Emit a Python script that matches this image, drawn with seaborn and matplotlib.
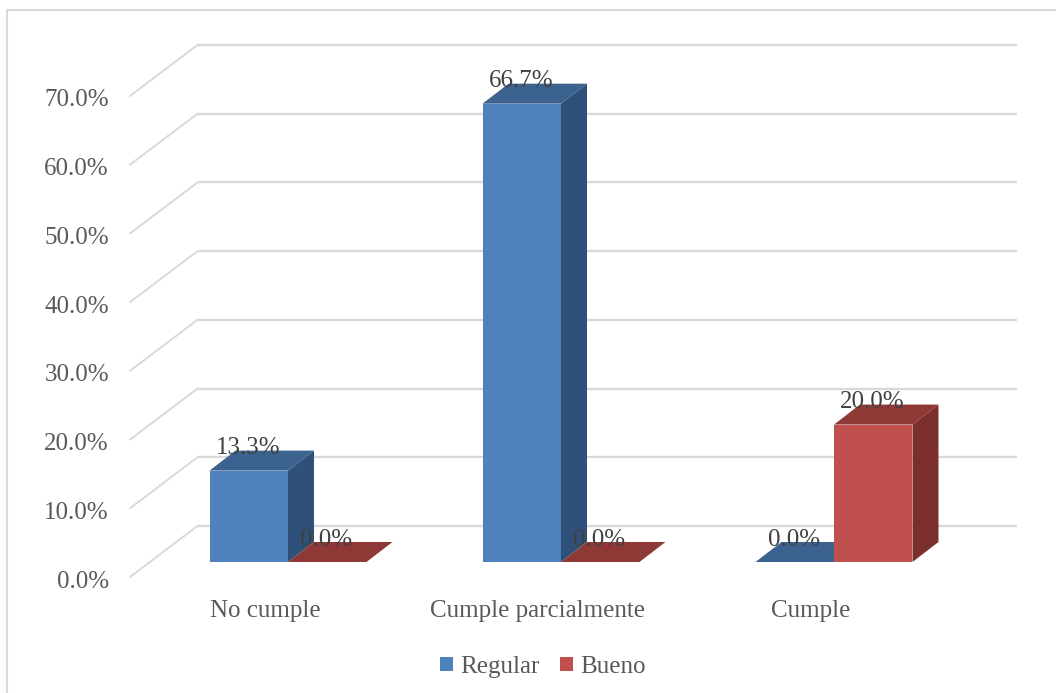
import matplotlib
matplotlib.use("Agg")
import matplotlib.pyplot as plt
import pandas as pd
import seaborn as sns
from matplotlib.lines import Line2D
from matplotlib.patches import Patch, Polygon
from matplotlib.transforms import Affine2D, IdentityTransform

categories = ["No cumple", "Cumple parcialmente", "Cumple"]
series_names = ["Regular", "Bueno"]
regular_values = [13.3, 66.7, 0.0]
bueno_values = [0.0, 0.0, 20.0]
y_ticks = [0, 10, 20, 30, 40, 50, 60, 70]

front_colors = ["#4F81BD", "#C0504D"]
top_colors = ["#3C6290", "#8E3936"]
side_colors = ["#2F5078", "#7A2F2D"]
GRID = "#D9D9D9"

W, H = 1056, 693
sns.set_theme(style="white")
plt.rcParams["font.family"] = ["Liberation Serif", "DejaVu Serif"]

df = pd.DataFrame({
    "categoria": categories * 2,
    "serie": [series_names[0]] * 3 + [series_names[1]] * 3,
    "valor": regular_values + bueno_values,
})

fig = plt.figure(figsize=(W / 100, H / 100), dpi=100, facecolor="white")
ax = fig.add_axes([151.5 / W, (H - 562) / H, 819 / W, 481 / H])
ax.patch.set_alpha(0)

sns.barplot(data=df, x="categoria", y="valor", hue="serie", order=categories,
            hue_order=series_names, palette=front_colors, saturation=1,
            width=0.575, gap=0, dodge=True, legend=False, ax=ax, zorder=3,
            edgecolor="none")
ax.set_xlim(-0.5, 2.5)
ax.set_ylim(0, 70)
ax.set_xlabel("")
ax.set_ylabel("")
sns.despine(ax=ax, left=True, bottom=True, top=True, right=True)


def shift(dx, dy):
    return Affine2D().translate(dx, dy)


# Walls: back wall lines and the diagonals of the side wall
x0, x1 = ax.get_xlim()
for v in y_ticks:
    ax.plot([x0, x1], [v, v], color=GRID, lw=1.7, clip_on=False, zorder=0.5,
            transform=ax.transData + shift(46.5, 36), solid_capstyle="butt")
    p_front = (ax.transData + shift(-21.5, -15)).transform((x0, v))
    p_back = (ax.transData + shift(46, 36)).transform((x0, v))
    ax.add_line(Line2D([p_front[0], p_back[0]], [p_front[1], p_back[1]], color=GRID,
                       lw=1.4, transform=IdentityTransform(), clip_on=False, zorder=0.5))

# Depth faces and value labels of each bar
DX, DY = 26, 20
for s, container in enumerate(ax.containers):
    for bar in container:
        bx, bw, bh = bar.get_x(), bar.get_width(), bar.get_height()
        (xa, ya), (xb, yb) = ax.transData.transform([(bx, 0), (bx + bw, bh)])
        top = [(xa, yb), (xb, yb), (xb + DX, yb + DY), (xa + DX, yb + DY)]
        ax.add_patch(Polygon(top, closed=True, facecolor=top_colors[s], edgecolor="none",
                             transform=IdentityTransform(), clip_on=False, zorder=2))
        if bh > 0:
            side = [(xb, ya), (xb + DX, ya + DY), (xb + DX, yb + DY), (xb, yb)]
            ax.add_patch(Polygon(side, closed=True, facecolor=side_colors[s], edgecolor="none",
                                 transform=IdentityTransform(), clip_on=False, zorder=2))
        ax.annotate(f"{bh:.1f}%", (bx + bw / 2, bh), xytext=(-0.5, 16), textcoords="offset points",
                    ha="center", va="center", fontsize=18, color="#404040",
                    annotation_clip=False, zorder=5)

# Axis tick labels, moved to the front edge of the floor
ax.set_yticks(y_ticks, [f"{v:.1f}%" for v in y_ticks])
ax.tick_params(axis="y", length=0, pad=31, labelsize=18, labelcolor="#595959")
ax.set_xticks(range(len(categories)), categories)
ax.tick_params(axis="x", length=0, pad=27, labelsize=18, labelcolor="#595959")
for lab in ax.get_yticklabels():
    lab.set_transform(lab.get_transform() + shift(0.5, -17))
for lab in ax.get_xticklabels():
    lab.set_transform(lab.get_transform() + shift(-23, 0))

# Chart frame (open to the right and at the bottom)
fig.add_artist(Line2D([7 / W, 1], [1 - 10 / H, 1 - 10 / H], color=GRID, lw=1.5,
                      transform=fig.transFigure))
fig.add_artist(Line2D([7 / W, 7 / W], [0, 1 - 10 / H], color=GRID, lw=1.5,
                      transform=fig.transFigure))

handles = [Patch(facecolor=c, edgecolor="none", label=n) for c, n in zip(front_colors, series_names)]
fig.legend(handles=handles, loc="center", bbox_to_anchor=(543 / W, 1 - 667 / H), ncol=2,
           frameon=False, fontsize=18, labelcolor="#595959", handlelength=0.52,
           handleheight=0.52, handletextpad=0.3, columnspacing=0.8, borderpad=0)

fig.savefig("out.png", dpi=100, facecolor="white")
